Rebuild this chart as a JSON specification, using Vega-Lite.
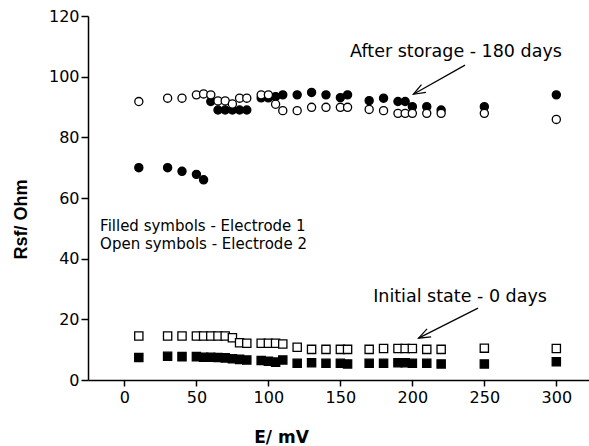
{
  "$schema": "https://vega.github.io/schema/vega-lite/v6.json",
  "width": 501,
  "height": 364,
  "autosize": {"type": "none"},
  "padding": {"left": 88, "top": 16, "right": 0, "bottom": 66},
  "background": "white",
  "config": {"view": {"stroke": null}},
  "datasets": {
    "points": [
      {"E": 10, "R": 70, "electrode": "1", "state": "after"},
      {"E": 30, "R": 70, "electrode": "1", "state": "after"},
      {"E": 40, "R": 68.8, "electrode": "1", "state": "after"},
      {"E": 50, "R": 67.8, "electrode": "1", "state": "after"},
      {"E": 55, "R": 66, "electrode": "1", "state": "after"},
      {"E": 60, "R": 91.8, "electrode": "1", "state": "after"},
      {"E": 65, "R": 89, "electrode": "1", "state": "after"},
      {"E": 70, "R": 89, "electrode": "1", "state": "after"},
      {"E": 75, "R": 89, "electrode": "1", "state": "after"},
      {"E": 80, "R": 89, "electrode": "1", "state": "after"},
      {"E": 85, "R": 89, "electrode": "1", "state": "after"},
      {"E": 95, "R": 93, "electrode": "1", "state": "after"},
      {"E": 100, "R": 93, "electrode": "1", "state": "after"},
      {"E": 105, "R": 93.4, "electrode": "1", "state": "after"},
      {"E": 110, "R": 94, "electrode": "1", "state": "after"},
      {"E": 120, "R": 94, "electrode": "1", "state": "after"},
      {"E": 130, "R": 94.8, "electrode": "1", "state": "after"},
      {"E": 140, "R": 94, "electrode": "1", "state": "after"},
      {"E": 150, "R": 93.1, "electrode": "1", "state": "after"},
      {"E": 155, "R": 94, "electrode": "1", "state": "after"},
      {"E": 170, "R": 92.1, "electrode": "1", "state": "after"},
      {"E": 180, "R": 92.9, "electrode": "1", "state": "after"},
      {"E": 190, "R": 91.8, "electrode": "1", "state": "after"},
      {"E": 195, "R": 91.8, "electrode": "1", "state": "after"},
      {"E": 200, "R": 90.1, "electrode": "1", "state": "after"},
      {"E": 210, "R": 90.1, "electrode": "1", "state": "after"},
      {"E": 220, "R": 89, "electrode": "1", "state": "after"},
      {"E": 250, "R": 90.1, "electrode": "1", "state": "after"},
      {"E": 300, "R": 94, "electrode": "1", "state": "after"},
      {"E": 10, "R": 91.8, "electrode": "2", "state": "after"},
      {"E": 30, "R": 92.9, "electrode": "2", "state": "after"},
      {"E": 40, "R": 92.9, "electrode": "2", "state": "after"},
      {"E": 50, "R": 94, "electrode": "2", "state": "after"},
      {"E": 55, "R": 94.3, "electrode": "2", "state": "after"},
      {"E": 60, "R": 94, "electrode": "2", "state": "after"},
      {"E": 65, "R": 92, "electrode": "2", "state": "after"},
      {"E": 70, "R": 92, "electrode": "2", "state": "after"},
      {"E": 75, "R": 91, "electrode": "2", "state": "after"},
      {"E": 80, "R": 92.9, "electrode": "2", "state": "after"},
      {"E": 85, "R": 92.9, "electrode": "2", "state": "after"},
      {"E": 95, "R": 94, "electrode": "2", "state": "after"},
      {"E": 100, "R": 94, "electrode": "2", "state": "after"},
      {"E": 105, "R": 90.9, "electrode": "2", "state": "after"},
      {"E": 110, "R": 88.8, "electrode": "2", "state": "after"},
      {"E": 120, "R": 88.8, "electrode": "2", "state": "after"},
      {"E": 130, "R": 89.9, "electrode": "2", "state": "after"},
      {"E": 140, "R": 89.9, "electrode": "2", "state": "after"},
      {"E": 150, "R": 89.9, "electrode": "2", "state": "after"},
      {"E": 155, "R": 89.9, "electrode": "2", "state": "after"},
      {"E": 170, "R": 89.2, "electrode": "2", "state": "after"},
      {"E": 180, "R": 88.8, "electrode": "2", "state": "after"},
      {"E": 190, "R": 87.9, "electrode": "2", "state": "after"},
      {"E": 195, "R": 87.9, "electrode": "2", "state": "after"},
      {"E": 200, "R": 87.9, "electrode": "2", "state": "after"},
      {"E": 210, "R": 87.9, "electrode": "2", "state": "after"},
      {"E": 220, "R": 87.9, "electrode": "2", "state": "after"},
      {"E": 250, "R": 87.9, "electrode": "2", "state": "after"},
      {"E": 300, "R": 85.9, "electrode": "2", "state": "after"},
      {"E": 10, "R": 7.4, "electrode": "1", "state": "initial"},
      {"E": 30, "R": 7.8, "electrode": "1", "state": "initial"},
      {"E": 40, "R": 7.7, "electrode": "1", "state": "initial"},
      {"E": 50, "R": 7.7, "electrode": "1", "state": "initial"},
      {"E": 55, "R": 7.5, "electrode": "1", "state": "initial"},
      {"E": 60, "R": 7.5, "electrode": "1", "state": "initial"},
      {"E": 65, "R": 7.4, "electrode": "1", "state": "initial"},
      {"E": 70, "R": 7.3, "electrode": "1", "state": "initial"},
      {"E": 75, "R": 7.0, "electrode": "1", "state": "initial"},
      {"E": 80, "R": 6.8, "electrode": "1", "state": "initial"},
      {"E": 85, "R": 6.6, "electrode": "1", "state": "initial"},
      {"E": 95, "R": 6.4, "electrode": "1", "state": "initial"},
      {"E": 100, "R": 6.2, "electrode": "1", "state": "initial"},
      {"E": 105, "R": 5.9, "electrode": "1", "state": "initial"},
      {"E": 110, "R": 6.6, "electrode": "1", "state": "initial"},
      {"E": 120, "R": 5.5, "electrode": "1", "state": "initial"},
      {"E": 130, "R": 5.7, "electrode": "1", "state": "initial"},
      {"E": 140, "R": 5.5, "electrode": "1", "state": "initial"},
      {"E": 150, "R": 5.5, "electrode": "1", "state": "initial"},
      {"E": 155, "R": 5.3, "electrode": "1", "state": "initial"},
      {"E": 170, "R": 5.5, "electrode": "1", "state": "initial"},
      {"E": 180, "R": 5.5, "electrode": "1", "state": "initial"},
      {"E": 190, "R": 5.7, "electrode": "1", "state": "initial"},
      {"E": 195, "R": 5.7, "electrode": "1", "state": "initial"},
      {"E": 200, "R": 5.5, "electrode": "1", "state": "initial"},
      {"E": 210, "R": 5.5, "electrode": "1", "state": "initial"},
      {"E": 220, "R": 5.3, "electrode": "1", "state": "initial"},
      {"E": 250, "R": 5.3, "electrode": "1", "state": "initial"},
      {"E": 300, "R": 6.0, "electrode": "1", "state": "initial"},
      {"E": 10, "R": 14.5, "electrode": "2", "state": "initial"},
      {"E": 30, "R": 14.5, "electrode": "2", "state": "initial"},
      {"E": 40, "R": 14.5, "electrode": "2", "state": "initial"},
      {"E": 50, "R": 14.5, "electrode": "2", "state": "initial"},
      {"E": 55, "R": 14.5, "electrode": "2", "state": "initial"},
      {"E": 60, "R": 14.5, "electrode": "2", "state": "initial"},
      {"E": 65, "R": 14.5, "electrode": "2", "state": "initial"},
      {"E": 70, "R": 14.5, "electrode": "2", "state": "initial"},
      {"E": 75, "R": 13.9, "electrode": "2", "state": "initial"},
      {"E": 80, "R": 12.3, "electrode": "2", "state": "initial"},
      {"E": 85, "R": 12.1, "electrode": "2", "state": "initial"},
      {"E": 95, "R": 12.1, "electrode": "2", "state": "initial"},
      {"E": 100, "R": 12.1, "electrode": "2", "state": "initial"},
      {"E": 105, "R": 12.1, "electrode": "2", "state": "initial"},
      {"E": 110, "R": 11.9, "electrode": "2", "state": "initial"},
      {"E": 120, "R": 10.8, "electrode": "2", "state": "initial"},
      {"E": 130, "R": 10.1, "electrode": "2", "state": "initial"},
      {"E": 140, "R": 10.1, "electrode": "2", "state": "initial"},
      {"E": 150, "R": 10.1, "electrode": "2", "state": "initial"},
      {"E": 155, "R": 10.1, "electrode": "2", "state": "initial"},
      {"E": 170, "R": 10.1, "electrode": "2", "state": "initial"},
      {"E": 180, "R": 10.4, "electrode": "2", "state": "initial"},
      {"E": 190, "R": 10.4, "electrode": "2", "state": "initial"},
      {"E": 195, "R": 10.4, "electrode": "2", "state": "initial"},
      {"E": 200, "R": 10.4, "electrode": "2", "state": "initial"},
      {"E": 210, "R": 10.1, "electrode": "2", "state": "initial"},
      {"E": 220, "R": 10.1, "electrode": "2", "state": "initial"},
      {"E": 250, "R": 10.5, "electrode": "2", "state": "initial"},
      {"E": 300, "R": 10.4, "electrode": "2", "state": "initial"}
    ],
    "annotations": [
      {"E": 230.3, "R": 108.1, "text": "After storage - 180 days"},
      {"E": 233.1, "R": 27.3, "text": "Initial state - 0 days"}
    ],
    "notes": [
      {"E": -16.9, "R": 50.8, "text": "Filled symbols - Electrode 1"},
      {"E": -16.9, "R": 44.9, "text": "Open symbols - Electrode 2"}
    ],
    "arrows": [
      {"id": "after", "E": 236.6, "R": 103.8, "E2": 200.7, "R2": 94.2},
      {"id": "initial", "E": 245.6, "R": 23.7, "E2": 204.3, "R2": 13.8}
    ]
  },
  "encoding": {
    "x": {
      "field": "E", "type": "quantitative",
      "scale": {"domain": [-25.3, 322.7], "nice": false, "zero": false},
      "axis": {
        "values": [0, 50, 100, 150, 200, 250, 300],
        "grid": false,
        "title": "E/ mV",
        "titleFont": "DejaVu Sans", "titleFontWeight": "bold", "titleFontSize": 17, "titleColor": "black",
        "titleX": 193, "titleY": 57, "titleBaseline": "middle", "titleAlign": "center",
        "labelFont": "DejaVu Sans", "labelFontSize": 16, "labelColor": "black", "labelPadding": 3,
        "tickSize": 6, "tickColor": "black", "tickWidth": 1.5,
        "domainColor": "black", "domainWidth": 1.5
      }
    },
    "y": {
      "field": "R", "type": "quantitative",
      "scale": {"domain": [0, 120], "nice": false},
      "axis": {
        "values": [0, 20, 40, 60, 80, 100, 120],
        "grid": false,
        "title": "Rsf/ Ohm",
        "titleFont": "Liberation Sans", "titleFontWeight": "bold", "titleFontSize": 18, "titleColor": "black",
        "titleX": -67, "titleY": 203, "titleBaseline": "middle", "titleAlign": "center", "titleAngle": 270,
        "labelFont": "DejaVu Sans", "labelFontSize": 16, "labelColor": "black", "labelPadding": 2,
        "tickSize": 7, "tickColor": "black", "tickWidth": 1.5,
        "domainColor": "black", "domainWidth": 1.5
      }
    }
  },
  "layer": [
    {
      "data": {"name": "points"},
      "mark": {"type": "point", "filled": true, "stroke": "black", "strokeWidth": 1.3, "opacity": 1},
      "encoding": {
        "shape": {"field": "state", "type": "nominal", "scale": {"domain": ["after", "initial"], "range": ["circle", "square"]}, "legend": null},
        "size": {"field": "state", "type": "nominal", "scale": {"domain": ["after", "initial"], "range": [66, 68]}, "legend": null},
        "fill": {"field": "electrode", "type": "nominal", "scale": {"domain": ["1", "2"], "range": ["black", "white"]}, "legend": null}
      }
    },
    {
      "data": {"name": "arrows"},
      "mark": {"type": "rule", "color": "black", "strokeWidth": 1.2},
      "encoding": {
        "x2": {"field": "E2"},
        "y2": {"field": "R2"}
      }
    },
    {
      "data": {"name": "arrows"},
      "transform": [{"filter": "datum.id == 'after'"}],
      "mark": {"type": "point", "shape": "M -1 -0.38 L 0 0 L -1 0.38", "filled": false, "stroke": "black", "strokeWidth": 1.2, "size": 560, "angle": 150.5, "opacity": 1},
      "encoding": {
        "x": {"field": "E2", "type": "quantitative"},
        "y": {"field": "R2", "type": "quantitative"}
      }
    },
    {
      "data": {"name": "arrows"},
      "transform": [{"filter": "datum.id == 'initial'"}],
      "mark": {"type": "point", "shape": "M -1 -0.38 L 0 0 L -1 0.38", "filled": false, "stroke": "black", "strokeWidth": 1.2, "size": 560, "angle": 153.2, "opacity": 1},
      "encoding": {
        "x": {"field": "E2", "type": "quantitative"},
        "y": {"field": "R2", "type": "quantitative"}
      }
    },
    {
      "data": {"name": "annotations"},
      "mark": {"type": "text", "font": "DejaVu Sans", "fontSize": 17.5, "color": "black", "align": "center", "baseline": "middle"},
      "encoding": {"text": {"field": "text"}}
    },
    {
      "data": {"name": "notes"},
      "mark": {"type": "text", "font": "DejaVu Sans", "fontSize": 15, "color": "black", "align": "left", "baseline": "middle"},
      "encoding": {"text": {"field": "text"}}
    }
  ]
}
